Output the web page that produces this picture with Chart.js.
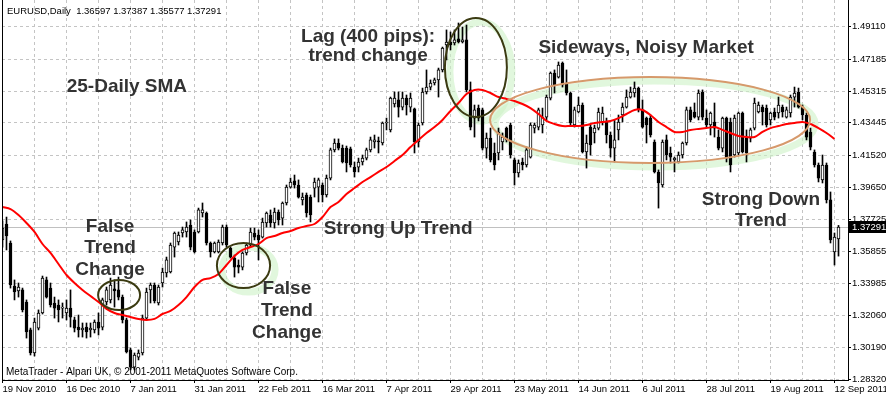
<!DOCTYPE html>
<html><head><meta charset="utf-8">
<script src="https://cdn.jsdelivr.net/npm/chart.js@4/dist/chart.umd.min.js"></script>
<style>html,body{margin:0;padding:0;background:#fff;overflow:hidden}#wrap{width:886px;height:397px;position:relative}</style>
</head><body><div id="wrap"><canvas id="c" width="886" height="397"></canvas></div>
<script>
const dateLabels = ['19 Nov 2010','16 Dec 2010','7 Jan 2011','31 Jan 2011','22 Feb 2011','16 Mar 2011','7 Apr 2011','29 Apr 2011','23 May 2011','14 Jun 2011','6 Jul 2011','28 Jul 2011','19 Aug 2011','12 Sep 2011'];
const priceTicks = [1.28320,1.30190,1.32060,1.33985,1.35855,1.37725,1.39650,1.41520,1.43445,1.45315,1.47185,1.49110];

const opens = [1.3653,1.3747,1.3635,1.3381,1.3352,1.3358,1.3287,1.3122,1.2986,1.3133,
1.3222,1.3417,1.3369,1.3281,1.3269,1.3251,1.3222,1.3251,1.3181,1.3139,
1.3122,1.3139,1.3122,1.3122,1.3169,1.3139,1.3287,1.3299,1.3364,1.3358,
1.3316,1.3181,1.3004,1.2903,1.2962,1.2986,1.3192,1.3358,1.3387,1.3281,
1.3399,1.3458,1.3464,1.3611,1.3641,1.3694,1.3700,1.3741,1.3700,1.3700,
1.3812,1.3812,1.3635,1.3582,1.3582,1.3635,1.3729,1.3605,1.3546,1.3505,
1.3493,1.3576,1.3623,1.3694,1.3682,1.3670,1.3753,1.3800,1.3753,1.3818,
1.3782,1.3871,1.3965,1.4001,1.3977,1.3889,1.3918,1.3906,1.3959,1.3965,
1.3977,1.3918,1.4018,1.4184,1.4225,1.4195,1.4195,1.4190,1.4083,1.4083,
1.4113,1.4136,1.4184,1.4231,1.4237,1.4225,1.4343,1.4302,1.4455,1.4479,
1.4437,1.4490,1.4437,1.4426,1.4231,1.4343,1.4526,1.4555,1.4579,1.4597,
1.4656,1.4803,1.4821,1.4815,1.4839,1.4821,1.4833,1.4538,1.4372,1.4431,
1.4420,1.4195,1.4254,1.4166,1.4166,1.4231,1.4313,1.4331,1.4125,1.4048,
1.4113,1.4095,1.4142,1.4313,1.4319,1.4331,1.4378,1.4490,1.4638,1.4614,
1.4697,1.4579,1.4520,1.4331,1.4408,1.4449,1.4172,1.4319,1.4284,1.4313,
1.4349,1.4349,1.4272,1.4195,1.4302,1.4390,1.4437,1.4496,1.4520,1.4549,
1.4420,1.4372,1.4372,1.4231,1.4054,1.3977,1.4243,1.4166,1.4125,1.4113,
1.4154,1.4225,1.4420,1.4408,1.4378,1.4526,1.4372,1.4331,1.4349,1.4260,
1.4195,1.4372,1.4349,1.4154,1.4166,1.4402,1.4254,1.4254,1.4313,1.4408,
1.4437,1.4431,1.4361,1.4408,1.4402,1.4437,1.4378,1.4402,1.4496,1.4526,
1.4437,1.4390,1.4290,1.4172,1.4095,1.4007,1.4095,1.3889,1.3582,1.36597];

const highs = [1.3765,1.3788,1.3647,1.3417,1.3399,1.3369,1.3299,1.3133,1.3192,1.3240,
1.3440,1.3434,1.3399,1.3316,1.3299,1.3281,1.3299,1.3358,1.3198,1.3210,
1.3163,1.3163,1.3163,1.3181,1.3222,1.3310,1.3375,1.3428,1.3417,1.3434,
1.3328,1.3192,1.3015,1.2986,1.3004,1.3210,1.3369,1.3399,1.3399,1.3387,
1.3487,1.3552,1.3635,1.3700,1.3700,1.3729,1.3759,1.3771,1.3712,1.3841,
1.3871,1.3818,1.3641,1.3641,1.3653,1.3741,1.3741,1.3611,1.3564,1.3535,
1.3582,1.3635,1.3723,1.3723,1.3712,1.3782,1.3818,1.3830,1.3841,1.3830,
1.3877,1.3977,1.4018,1.4036,1.4007,1.3930,1.3930,1.3918,1.4018,1.4018,
1.3989,1.4036,1.4195,1.4249,1.4249,1.4213,1.4207,1.4201,1.4113,1.4136,
1.4154,1.4195,1.4260,1.4272,1.4260,1.4349,1.4372,1.4496,1.4526,1.4526,
1.4526,1.4508,1.4520,1.4431,1.4343,1.4549,1.4656,1.4597,1.4608,1.4667,
1.4791,1.4892,1.4880,1.4892,1.4933,1.4909,1.4921,1.4585,1.4449,1.4449,
1.4431,1.4284,1.4313,1.4225,1.4313,1.4284,1.4319,1.4343,1.4136,1.4125,
1.4136,1.4201,1.4343,1.4343,1.4431,1.4431,1.4508,1.4644,1.4656,1.4703,
1.4703,1.4656,1.4526,1.4437,1.4496,1.4461,1.4272,1.4331,1.4331,1.4431,
1.4437,1.4372,1.4290,1.4361,1.4390,1.4461,1.4538,1.4555,1.4585,1.4555,
1.4479,1.4378,1.4390,1.4243,1.4066,1.4243,1.4272,1.4201,1.4142,1.4172,
1.4231,1.4437,1.4437,1.4461,1.4538,1.4538,1.4420,1.4408,1.4461,1.4302,
1.4378,1.4378,1.4372,1.4390,1.4408,1.4408,1.4302,1.4313,1.4490,1.4467,
1.4449,1.4449,1.4408,1.4431,1.4496,1.4449,1.4437,1.4508,1.4555,1.4549,
1.4449,1.4402,1.4313,1.4184,1.4107,1.4154,1.4107,1.3936,1.3694,1.37387];

const lows = [1.3611,1.3594,1.3369,1.3299,1.3316,1.3228,1.3074,1.2974,1.2968,1.3122,
1.3216,1.3310,1.3257,1.3192,1.3169,1.3192,1.3181,1.3139,1.3110,1.3080,
1.3080,1.3074,1.3080,1.3104,1.3092,1.3122,1.3269,1.3281,1.3257,1.3299,
1.3163,1.2986,1.2886,1.2886,1.2945,1.2974,1.3181,1.3281,1.3281,1.3269,
1.3375,1.3434,1.3458,1.3552,1.3623,1.3670,1.3670,1.3594,1.3576,1.3694,
1.3788,1.3623,1.3552,1.3576,1.3576,1.3623,1.3611,1.3546,1.3434,1.3458,
1.3476,1.3564,1.3611,1.3653,1.3535,1.3664,1.3729,1.3729,1.3723,1.3741,
1.3741,1.3859,1.3959,1.3959,1.3900,1.3859,1.3788,1.3759,1.3906,1.3877,
1.3877,1.3906,1.4007,1.4172,1.4184,1.4107,1.4054,1.4083,1.4024,1.4054,
1.4095,1.4125,1.4172,1.4195,1.4166,1.4213,1.4302,1.4290,1.4437,1.4378,
1.4420,1.4390,1.4408,1.4166,1.4201,1.4331,1.4514,1.4538,1.4567,1.4496,
1.4644,1.4715,1.4774,1.4803,1.4815,1.4815,1.4526,1.4302,1.4260,1.4355,
1.4184,1.4136,1.4113,1.4066,1.4125,1.4184,1.4231,1.4136,1.3977,1.4024,
1.4066,1.4083,1.4136,1.4284,1.4302,1.4284,1.4361,1.4479,1.4520,1.4608,
1.4555,1.4508,1.4331,1.4319,1.4402,1.4166,1.4077,1.4154,1.4225,1.4302,
1.4331,1.4225,1.4142,1.4113,1.4243,1.4349,1.4431,1.4490,1.4496,1.4408,
1.4313,1.4225,1.4260,1.4048,1.3841,1.3965,1.4125,1.4107,1.4054,1.4107,
1.4136,1.4213,1.4349,1.4372,1.4361,1.4361,1.4319,1.4272,1.4260,1.4184,
1.4172,1.4113,1.4054,1.4142,1.4154,1.4166,1.4113,1.4231,1.4302,1.4402,
1.4331,1.4319,1.4331,1.4361,1.4372,1.4378,1.4372,1.4378,1.4437,1.4431,
1.4361,1.4243,1.4184,1.4083,1.3995,1.3989,1.3871,1.3635,1.3505,1.35577];

const closes = [1.3723,1.3676,1.3387,1.3346,1.3375,1.3240,1.3110,1.2986,1.3169,1.3222,
1.3428,1.3316,1.3269,1.3251,1.3240,1.3257,1.3251,1.3198,1.3133,1.3122,
1.3133,1.3110,1.3133,1.3169,1.3133,1.3299,1.3358,1.3387,1.3352,1.3316,
1.3181,1.2992,1.2903,1.2974,1.2986,1.3192,1.3346,1.3387,1.3293,1.3375,
1.3464,1.3535,1.3623,1.3694,1.3682,1.3712,1.3729,1.3611,1.3582,1.3830,
1.3830,1.3635,1.3582,1.3635,1.3641,1.3729,1.3623,1.3552,1.3493,1.3493,
1.3576,1.3623,1.3700,1.3670,1.3653,1.3759,1.3812,1.3753,1.3818,1.3771,
1.3871,1.3965,1.3995,1.3977,1.3906,1.3906,1.3812,1.3800,1.3995,1.4007,
1.3918,1.4018,1.4184,1.4225,1.4195,1.4113,1.4107,1.4095,1.4054,1.4113,
1.4136,1.4184,1.4243,1.4243,1.4231,1.4343,1.4349,1.4490,1.4490,1.4437,
1.4490,1.4449,1.4490,1.4231,1.4331,1.4526,1.4555,1.4579,1.4597,1.4656,
1.4785,1.4821,1.4803,1.4833,1.4821,1.4833,1.4538,1.4319,1.4420,1.4372,
1.4195,1.4254,1.4125,1.4095,1.4290,1.4260,1.4243,1.4154,1.4048,1.4107,
1.4095,1.4184,1.4331,1.4331,1.4420,1.4378,1.4496,1.4638,1.4567,1.4685,
1.4567,1.4520,1.4343,1.4420,1.4449,1.4172,1.4225,1.4213,1.4313,1.4408,
1.4402,1.4272,1.4195,1.4243,1.4349,1.4437,1.4496,1.4526,1.4549,1.4420,
1.4319,1.4331,1.4272,1.4054,1.3989,1.4231,1.4154,1.4142,1.4136,1.4154,
1.4225,1.4420,1.4361,1.4378,1.4520,1.4378,1.4331,1.4402,1.4313,1.4195,
1.4372,1.4136,1.4095,1.4372,1.4402,1.4172,1.4166,1.4302,1.4461,1.4449,
1.4408,1.4331,1.4402,1.4378,1.4449,1.4408,1.4420,1.4496,1.4520,1.4437,
1.4390,1.4260,1.4201,1.4095,1.4018,1.4095,1.3889,1.3653,1.3670,1.37291];

// 25-day SMA, read every second bar (bar 0, 2, 4, ...)
const sma25 = [1.3847,1.3835,1.3800,1.3753,1.3700,1.3629,1.3576,1.3511,1.3446,1.3399,
1.3358,1.3322,1.3287,1.3246,1.3222,1.3210,1.3198,1.3187,1.3181,1.3187,
1.3216,1.3234,1.3269,1.3316,1.3375,1.3417,1.3428,1.3452,1.3505,1.3558,
1.3594,1.3611,1.3629,1.3664,1.3676,1.3694,1.3706,1.3723,1.3735,1.3747,
1.3788,1.3847,1.3877,1.3924,1.3959,1.3995,1.4024,1.4054,1.4083,1.4119,
1.4154,1.4201,1.4243,1.4284,1.4319,1.4361,1.4414,1.4461,1.4514,1.4538,
1.4538,1.4520,1.4496,1.4485,1.4473,1.4455,1.4431,1.4396,1.4355,1.4337,
1.4325,1.4325,1.4325,1.4331,1.4343,1.4349,1.4355,1.4372,1.4396,1.4420,
1.4420,1.4390,1.4349,1.4319,1.4290,1.4290,1.4302,1.4308,1.4313,1.4319,
1.4302,1.4284,1.4266,1.4260,1.4260,1.4290,1.4313,1.4325,1.4337,1.4343,
1.4349,1.4337,1.4313,1.4284,1.4249];
const SMA_STEP = 2;

const headerText = 'EURUSD,Daily  1.36597 1.37387 1.35577 1.37291';
const footerText = 'MetaTrader - Alpari UK, \u00A9 2001-2011 MetaQuotes Software Corp.';
const bidPrice = 1.37291;

const noteTexts  = ['25-Daily SMA','Lag (400 pips):','trend change','Sideways, Noisy Market','Strong Up Trend','False','Trend','Change','False','Trend','Change','Strong Down','Trend'];
const noteBars   = [31.1, 91.4, 91.4, 160.9, 98.9, 26.9, 26.9, 26.9, 71.1, 71.1, 71.1, 189.6, 189.6];
const notePrices = [1.4526, 1.4821, 1.4706, 1.4756, 1.3688, 1.3700, 1.3573, 1.3446, 1.3334, 1.3204, 1.3074, 1.3859, 1.3735];

// ellipse annotations: bar range and price range
const ellBarFrom  = [23.9, 53.6, 110.6, 121.9];
const ellBarTo    = [34.4, 66.9, 126.1, 201.9];
const ellPriceTop = [1.3417, 1.3635, 1.4962, 1.4614];
const ellPriceBot = [1.3239, 1.3369, 1.4378, 1.4107];
const ellColors   = ['#3b3b12', '#3b3b12', '#3b3b12', '#d6996b'];
const ellGlow     = [false, true, true, true];

const FONT = '"Liberation Sans", Arial, sans-serif';
Chart.defaults.font.family = FONT;

const bgPlugin = {
  id: 'bg',
  beforeDatasetsDraw(chart) {
    const {ctx, chartArea: a, scales: {x, y}} = chart;
    ctx.save();
    const yb = Math.round(y.getPixelForValue(bidPrice)) + 0.5;
    ctx.strokeStyle = '#c0c0c0'; ctx.lineWidth = 1;
    ctx.beginPath(); ctx.moveTo(a.left, yb); ctx.lineTo(a.right, yb); ctx.stroke();
    for (let k = 0; k < ellBarFrom.length; k++) {
      if (!ellGlow[k]) continue;
      const x0 = x.getPixelForValue(ellBarFrom[k]), x1 = x.getPixelForValue(ellBarTo[k]);
      const y0 = y.getPixelForValue(ellPriceTop[k]), y1 = y.getPixelForValue(ellPriceBot[k]);
      ctx.strokeStyle = 'rgba(205,242,198,0.6)'; ctx.lineWidth = 7;
      ctx.beginPath();
      ctx.ellipse((x0 + x1) / 2 + 5, (y0 + y1) / 2 + 4, (x1 - x0) / 2, (y1 - y0) / 2, 0, 0, Math.PI * 2);
      ctx.stroke();
    }
    ctx.restore();
  },
  afterDatasetsDraw(chart) {
    const {ctx, chartArea: a, scales: {x, y}} = chart;
    ctx.save();
    for (let k = 0; k < ellBarFrom.length; k++) {
      const x0 = x.getPixelForValue(ellBarFrom[k]), x1 = x.getPixelForValue(ellBarTo[k]);
      const y0 = y.getPixelForValue(ellPriceTop[k]), y1 = y.getPixelForValue(ellPriceBot[k]);
      ctx.strokeStyle = ellColors[k]; ctx.lineWidth = 2;
      ctx.beginPath();
      ctx.ellipse((x0 + x1) / 2, (y0 + y1) / 2, (x1 - x0) / 2, (y1 - y0) / 2, 0, 0, Math.PI * 2);
      ctx.stroke();
    }
    ctx.font = 'bold 19px ' + FONT;
    ctx.fillStyle = '#333333';
    ctx.textAlign = 'center'; ctx.textBaseline = 'alphabetic';
    for (let k = 0; k < noteTexts.length; k++) {
      ctx.fillText(noteTexts[k], x.getPixelForValue(noteBars[k]), y.getPixelForValue(notePrices[k]));
    }
    ctx.fillStyle = '#000';
    ctx.textAlign = 'left'; ctx.textBaseline = 'middle';
    ctx.font = '9.5px ' + FONT;
    ctx.fillText(headerText, 7, 11);
    ctx.font = '10px ' + FONT;
    ctx.fillText(footerText, 6, 372);
    ctx.strokeStyle = '#000'; ctx.lineWidth = 1;
    ctx.beginPath();
    ctx.moveTo(a.left + 0.5, a.top); ctx.lineTo(a.left + 0.5, a.bottom + 0.5);
    ctx.lineTo(a.right + 0.5, a.bottom + 0.5); ctx.lineTo(a.right + 0.5, a.top);
    ctx.stroke();
    const yb = Math.round(y.getPixelForValue(bidPrice)) + 0.5;
    ctx.fillStyle = '#000';
    ctx.fillRect(a.right + 1, yb - 6.5, 886 - a.right - 1, 12);
    ctx.fillStyle = '#fff';
    ctx.font = '9.5px ' + FONT;
    ctx.fillText(bidPrice.toFixed(5), a.right + 4, yb);
    ctx.restore();
  }
};

new Chart(document.getElementById('c'), {
  type: 'bar',
  data: {
    datasets: [
      {
        type: 'line',
        data: sma25.map((v, k) => ({x: k * SMA_STEP, y: v})),
        borderColor: '#ff0000', borderWidth: 2, pointRadius: 0, tension: 0.3,
        order: 0
      },
      {
        data: opens.map((o, i) => ({x: i, y: [o, closes[i]]})),
        backgroundColor: (c) => closes[c.dataIndex] >= opens[c.dataIndex] ? '#ffffff' : '#000000',
        borderColor: '#000000', borderWidth: 1, borderSkipped: false,
        barThickness: 3, grouped: false, minBarLength: 1,
        order: 1
      },
      {
        data: highs.map((h, i) => ({x: i, y: [lows[i], h]})),
        backgroundColor: '#000000', borderWidth: 0,
        barThickness: 1, grouped: false,
        order: 2
      }
    ]
  },
  options: {
    responsive: false, animation: false, devicePixelRatio: 1,
    layout: {padding: {left: 2, top: 0, right: 0, bottom: 0}},
    plugins: {legend: {display: false}, tooltip: {enabled: false}},
    scales: {
      x: {
        type: 'linear', min: -0.125, max: 211.375, offset: false,
        afterBuildTicks: (s) => { const t = []; for (let v = 0; v <= 208; v += 8) t.push({value: v}); s.ticks = t; },
        afterFit: (s) => { s.height = 17; s.paddingLeft = 0; s.paddingRight = 0; },
        ticks: {
          autoSkip: false, maxRotation: 0, align: 'start', padding: 1, color: '#000',
          font: {size: 9.5, family: FONT},
          callback: (v) => (v % 16 === 0 ? dateLabels[v / 16] : '')
        },
        grid: {
          color: '#c4c4c4', lineWidth: 1, drawTicks: true, tickLength: 3, offset: false,
          tickColor: (c) => (c.tick && c.tick.value % 16 === 0 ? '#000' : 'rgba(0,0,0,0)')
        },
        border: {display: true, color: '#000', dash: [3, 3]}
      },
      y: {
        type: 'linear', position: 'right', min: 1.28266, max: 1.50686,
        afterBuildTicks: (s) => { s.ticks = priceTicks.map((v) => ({value: v})); },
        afterFit: (s) => { s.width = 38; s.paddingTop = 0; s.paddingBottom = 0; },
        ticks: {
          padding: 1, color: '#000', font: {size: 9.5, family: FONT},
          callback: (v) => Number(v).toFixed(5)
        },
        grid: {color: '#c4c4c4', lineWidth: 1, drawTicks: true, tickLength: 3, tickColor: '#000'},
        border: {display: true, color: '#000', dash: [3, 3]}
      }
    }
  },
  plugins: [bgPlugin]
});
</script>
</body></html>
